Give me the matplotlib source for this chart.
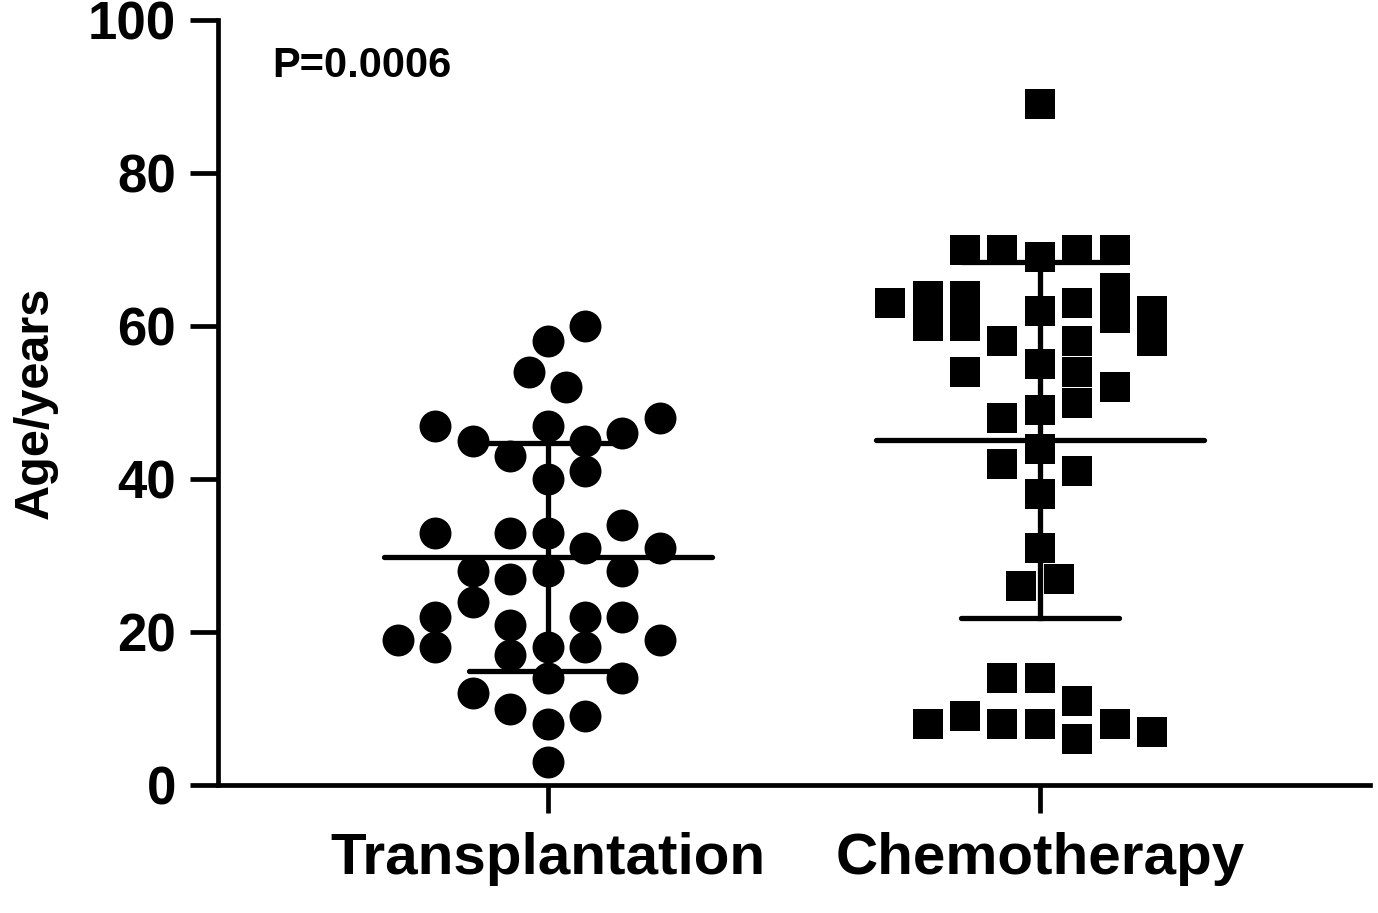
import numpy as np
import matplotlib
matplotlib.use("Agg")
import matplotlib.pyplot as plt

# Group names
groups = ["Transplantation", "Chemotherapy"]

# Ages, with the column slot each dot sits in
transplant_age = [60, 58, 54, 52, 47, 48, 45, 43, 47, 45, 46, 41, 40,
                  33, 33, 33, 34, 31, 31, 28, 27, 28, 28, 24, 22, 21, 22, 22,
                  19, 18, 17, 18, 18, 19, 14, 14, 12, 10, 8, 9, 3]
transplant_slot = [1, 0, -0.5, 0.5, -3, 3, -2, -1, 0, 1, 2, 1, 0,
                   -3, -1, 0, 2, 1, 3, -2, -1, 0, 2, -2, -3, -1, 1, 2,
                   -4, -3, -1, 0, 1, 3, 0, 2, -2, -1, 0, 1, 0]

chemo_age = [70, 70, 69, 70, 70,
             63, 64, 60, 64, 60, 58, 54, 62, 55, 49, 48, 44, 63, 58, 54, 50,
             65, 61, 52, 62, 58,
             42, 41, 38, 31, 26, 27,
             14, 14, 11, 8, 9, 8, 8, 6, 8, 7, 89]
chemo_slot = [-2, -1, 0, 1, 2,
              -4, -3, -3, -2, -2, -1, -2, 0, 0, 0, -1, 0, 1, 1, 1, 1,
              2, 2, 2, 3, 3,
              -1, 1, 0, 0, -0.5, 0.5,
              -1, 0, 1, -3, -2, -1, 0, 1, 2, 3, 0]

y_ticks = [0, 20, 40, 60, 80, 100]
p_text = "P=0.0006"

plt.rcParams['font.family'] = ['Liberation Sans', 'DejaVu Sans']
plt.rcParams['font.weight'] = 'bold'

fig = plt.figure(figsize=(13.78, 9.13), dpi=100)
ax = fig.add_axes([0.158, 0.140, 0.836, 0.838])

step = 0.076
data = [(transplant_age, transplant_slot, 'o', 23),
        (chemo_age, chemo_slot, 's', 21.5)]

for i, (ages, slots, marker, ms) in enumerate(data):
    xs = i + np.array(slots) * step
    ax.plot(xs, ages, linestyle='none', marker=marker, markersize=ms,
            color='black', markeredgewidth=0, zorder=2)

    # mean with SD bars
    m = np.mean(ages)
    sd = np.std(ages, ddof=1)
    ax.plot([i - 0.333, i + 0.333], [m, m], color='black', lw=3.8,
            solid_capstyle='round', zorder=3)
    ax.plot([i, i], [m - sd, m + sd], color='black', lw=3.8, zorder=3)
    for yy in (m - sd, m + sd):
        ax.plot([i - 0.16, i + 0.16], [yy, yy], color='black', lw=3.8,
                solid_capstyle='round', zorder=3)

ax.set_xlim(-0.67, 1.67)
ax.set_ylim(0, 100)
ax.set_yticks(y_ticks)
ax.set_xticks([0, 1])
ax.set_xticklabels(groups, fontsize=42, fontweight='bold')
ax.tick_params(axis='y', labelsize=38, width=3.4, length=20, pad=10)
ax.tick_params(axis='x', width=3.4, length=20, pad=14)
for lab in ax.get_yticklabels():
    lab.set_fontweight('bold')

ax.spines['top'].set_visible(False)
ax.spines['right'].set_visible(False)
ax.spines['left'].set_linewidth(3.4)
ax.spines['bottom'].set_linewidth(3.4)

ax.set_ylabel("Age/years", fontsize=35, fontweight='bold', labelpad=22)
ax.text(-0.56, 94, p_text, fontsize=30, fontweight='bold', ha='left', va='center')

fig.savefig("out.png", dpi=100)
